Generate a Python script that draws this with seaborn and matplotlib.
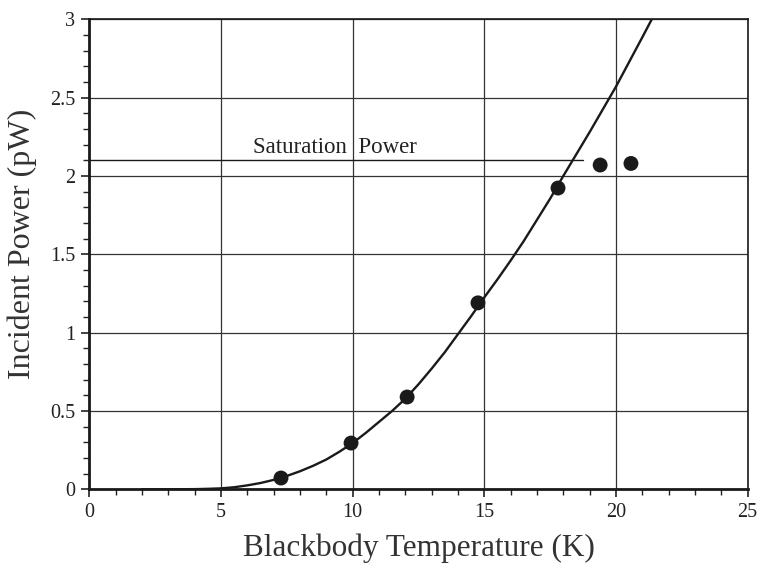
import matplotlib
matplotlib.use("Agg")
import matplotlib.pyplot as plt
from matplotlib.ticker import MultipleLocator
import seaborn as sns
import pandas as pd

# measured data points
temp_points = [7.28, 9.94, 12.07, 14.76, 17.8, 19.4, 20.57]
power_points = [0.072, 0.295, 0.589, 1.19, 1.923, 2.07, 2.08]

# fitted curve
temp_curve = [2, 3, 4, 4.5, 5, 5.5, 6, 6.5, 7, 7.5, 8, 8.5, 9, 9.5, 10, 10.5,
              11, 11.5, 12, 12.5, 13, 13.5, 14, 14.5, 15, 15.5, 16, 16.5, 17,
              17.5, 18, 19, 20, 21, 21.36]
power_curve = [0, 0, 0.001, 0.003, 0.006, 0.013, 0.025, 0.04, 0.06, 0.085, 0.115,
               0.15, 0.19, 0.24, 0.295, 0.36, 0.43, 0.5, 0.578, 0.67, 0.77, 0.875,
               0.99, 1.105, 1.225, 1.34, 1.46, 1.585, 1.72, 1.855, 2.0, 2.28, 2.57,
               2.885, 3.0]

sat_level = 2.1
sat_x = [0, 18.74]
sat_label = "Saturation  Power"

x_ticks = [0, 5, 10, 15, 20, 25]
y_ticks = [0, 0.5, 1, 1.5, 2, 2.5, 3]
y_tick_labels = ["0", "0.5", "1", "1.5", "2", "2.5", "3"]

sns.set_style("ticks")
plt.rcParams['font.family'] = ['Liberation Serif', 'DejaVu Serif']

fig = plt.figure(figsize=(7.58, 5.65), dpi=100)
ax = fig.add_axes([0.1178, 0.134, 0.9863 - 0.1178, 0.9658 - 0.134])

df_curve = pd.DataFrame({"T": temp_curve, "P": power_curve})
df_pts = pd.DataFrame({"T": temp_points, "P": power_points})

sns.lineplot(data=df_curve, x="T", y="P", ax=ax, color="#1a1a1a", linewidth=1.7,
             sort=False, zorder=4)
sns.scatterplot(data=df_pts, x="T", y="P", ax=ax, color="#1a1a1a", s=115,
                edgecolor="none", zorder=5)
ax.plot(sat_x, [sat_level, sat_level], color="#1a1a1a", linewidth=1.0, zorder=3)
ax.text(9.33, sat_level + 0.012, sat_label, ha="center", va="bottom",
        fontsize=16.5, color="#222222")

ax.set_xlim(0, 25)
ax.set_ylim(0, 3)
ax.set_xticks(x_ticks)
ax.set_xticklabels([str(v) for v in x_ticks])
ax.set_yticks(y_ticks)
ax.set_yticklabels(y_tick_labels)
ax.xaxis.set_minor_locator(MultipleLocator(1))
ax.yaxis.set_minor_locator(MultipleLocator(0.1))

ax.grid(True, which="major", color="#333333", linewidth=0.9)
ax.set_axisbelow(True)

ax.tick_params(which="major", direction="out", length=6, width=1.2,
               labelsize=14.5, colors="#222222", pad=4)
ax.tick_params(which="minor", direction="out", length=4, width=1.0, colors="#222222")

for side in ["left", "bottom"]:
    ax.spines[side].set_linewidth(2.0)
    ax.spines[side].set_color("#1a1a1a")
for side in ["top", "right"]:
    ax.spines[side].set_visible(True)
    ax.spines[side].set_linewidth(1.2)
    ax.spines[side].set_color("#1a1a1a")

ax.set_xlabel("Blackbody Temperature (K)", fontsize=22.5, color="#333333")
ax.set_ylabel("Incident Power (pW)", fontsize=23, color="#333333")
ax.xaxis.set_label_coords(0.5, -0.094)
ax.yaxis.set_label_coords(-0.079, 0.522)

fig.savefig("out.png", dpi=100)
